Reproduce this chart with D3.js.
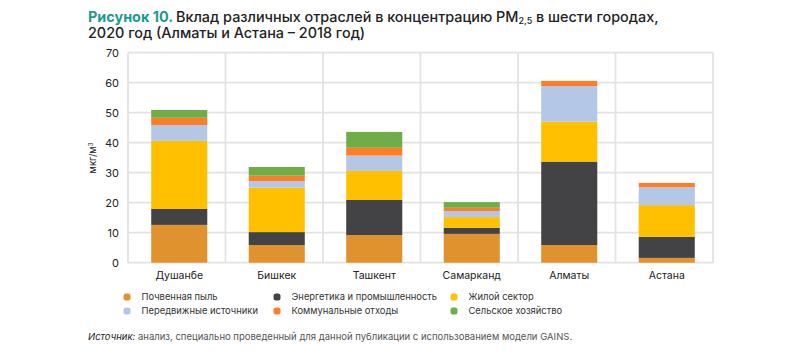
<!DOCTYPE html>
<html>
<head>
<meta charset="utf-8">
<script src="https://cdn.jsdelivr.net/npm/d3@7"></script>
<style>
  body { margin: 0; background: #fff; }
  svg { display: block; font-family: Inter, "Noto Sans", sans-serif; }
</style>
</head>
<body>
<div id="chart"></div>
<script>
// data
const cities = ["Душанбе", "Бишкек", "Ташкент", "Самарканд", "Алматы", "Астана"];
const sectors = ["Почвенная пыль", "Энергетика и промышленность", "Жилой сектор",
  "Передвижные источники", "Коммунальные отходы", "Сельское хозяйство"];
const soilDust    = [12.6, 5.9, 9.2, 9.6, 5.9, 1.6];
const energy      = [5.3, 4.3, 11.7, 2.0, 27.8, 7.0];
const residential = [22.7, 14.8, 9.7, 3.6, 13.3, 10.6];
const transport   = [5.3, 2.2, 5.1, 2.0, 11.9, 6.0];
const waste       = [2.4, 1.8, 2.6, 1.1, 1.7, 1.4];
const agriculture = [2.6, 2.9, 5.3, 1.9, 0, 0];
const yTicks = [0, 10, 20, 30, 40, 50, 60, 70];

const colors = ["#e0922f", "#434345", "#ffc000", "#b4c7e7", "#fd7e26", "#70ad47"];

const series = [soilDust, energy, residential, transport, waste, agriculture];
const table = cities.map((c, i) => {
  const row = { city: c };
  sectors.forEach((s, j) => { row[s] = series[j][i]; });
  return row;
});

const svg = d3.select("#chart")
  .append("svg")
  .attr("width", 793)
  .attr("height", 353);

// title
const title = svg.append("text")
  .attr("x", 88)
  .attr("y", 22)
  .attr("font-size", 14.4)
  .attr("font-weight", 500)
  .attr("fill", "#222");
title.append("tspan").attr("fill", "#1f9a8e").attr("font-weight", 700).text("Рисунок 10. ");
title.append("tspan").text("Вклад различных отраслей в концентрацию PM");
title.append("tspan").attr("font-size", 9).attr("dy", 2).text("2,5");
title.append("tspan").attr("dy", -2).text(" в шести городах,");
svg.append("text")
  .attr("x", 88)
  .attr("y", 38)
  .attr("font-size", 14.4)
  .attr("font-weight", 500)
  .attr("fill", "#222")
  .text("2020 год (Алматы и Астана – 2018 год)");

const plotL = 128, plotR = 713, plotT = 52.7, plotB = 262.7;

const x = d3.scaleBand()
  .domain(cities)
  .range([plotL, plotR])
  .paddingInner(0.425)
  .paddingOuter(0.2125);

const y = d3.scaleLinear()
  .domain([0, 70])
  .range([plotB, plotT]);

// horizontal grid
svg.append("g")
  .selectAll("line")
  .data(yTicks)
  .join("line")
  .attr("x1", plotL)
  .attr("x2", plotR)
  .attr("y1", d => y(d))
  .attr("y2", d => y(d))
  .attr("stroke", "#e3e3e3")
  .attr("stroke-width", 1.8);

// vertical grid at category boundaries
const step = x.step();
svg.append("g")
  .selectAll("line")
  .data(d3.range(cities.length + 1))
  .join("line")
  .attr("x1", i => plotL + i * step)
  .attr("x2", i => plotL + i * step)
  .attr("y1", plotT)
  .attr("y2", plotB)
  .attr("stroke", "#e3e3e3")
  .attr("stroke-width", 1.8);

// bars
const stacked = d3.stack().keys(sectors)(table);
svg.append("g")
  .selectAll("g")
  .data(stacked)
  .join("g")
  .attr("fill", (d, i) => colors[i])
  .selectAll("rect")
  .data(d => d)
  .join("rect")
  .attr("x", d => x(d.data.city) + 2.5)
  .attr("y", d => y(d[1]))
  .attr("width", x.bandwidth())
  .attr("height", d => y(d[0]) - y(d[1]));

// y axis labels
const yAxis = svg.append("g")
  .attr("transform", `translate(${plotL},0)`)
  .call(d3.axisLeft(y).tickValues(yTicks).tickSize(0).tickPadding(9));
yAxis.select(".domain").remove();
yAxis.selectAll("text")
  .attr("font-family", "Inter, 'Noto Sans', sans-serif")
  .attr("font-size", 11)
  .attr("fill", "#222");

svg.append("text")
  .attr("transform", "translate(96,158) rotate(-90)")
  .attr("text-anchor", "middle")
  .attr("font-size", 9.5)
  .attr("fill", "#222")
  .html('мкг/м<tspan dy="-3" font-size="6">3</tspan>');

// x axis labels
const xAxis = svg.append("g")
  .attr("transform", `translate(2.5,${plotB})`)
  .call(d3.axisBottom(x).tickSize(0).tickPadding(9));
xAxis.select(".domain").remove();
xAxis.selectAll("text")
  .attr("font-family", "Inter, 'Noto Sans', sans-serif")
  .attr("font-size", 10.5)
  .attr("fill", "#222");

// legend
const legendX = [127, 277, 454];
const legendY = [297, 311];
const legend = svg.append("g")
  .selectAll("g")
  .data(sectors)
  .join("g")
  .attr("transform", (d, i) => `translate(${legendX[i % 3]},${legendY[Math.floor(i / 3)]})`);
legend.append("rect")
  .attr("x", -3.5)
  .attr("y", -3.5)
  .attr("width", 7)
  .attr("height", 7)
  .attr("rx", 2.5)
  .attr("fill", (d, i) => colors[i]);
legend.append("text")
  .attr("x", 14.5)
  .attr("dy", "0.35em")
  .attr("font-size", 9.4)
  .attr("fill", "#333")
  .text(d => d);

// source note
const note = svg.append("text")
  .attr("x", 88)
  .attr("y", 340)
  .attr("font-size", 9.5)
  .attr("fill", "#555");
note.append("tspan").attr("font-style", "italic").attr("fill", "#222").text("Источник:");
note.append("tspan").text(" анализ, специально проведенный для данной публикации с использованием модели GAINS.");
</script>
</body>
</html>
